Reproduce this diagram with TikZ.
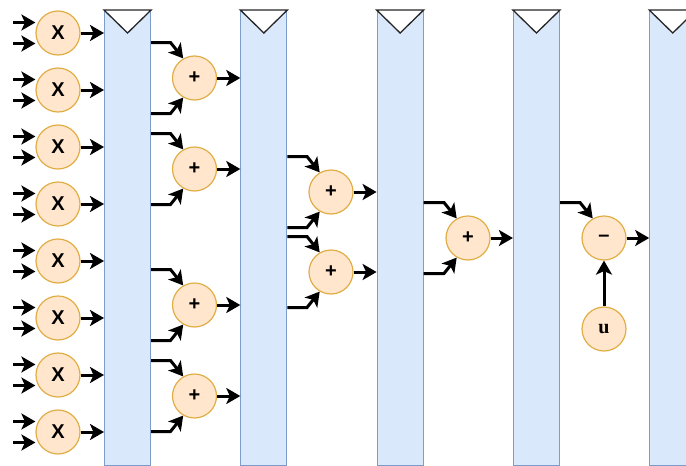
\documentclass[tikz,border=0pt]{standalone}
\usepackage{fontspec}
\setmainfont{Liberation Sans}
\newfontfamily\varfont{Liberation Serif}
\usetikzlibrary{arrows.meta,calc}

\definecolor{barfill}{HTML}{DAE8FC}
\definecolor{barline}{HTML}{7C9CCB}
\definecolor{opfill}{HTML}{FFE6CC}
\definecolor{opline}{HTML}{E0AE45}

% input from a bar into an operator: #1 bar, #2 operator, #3 vertical offset, #4 entry angle
\newcommand\feedin[4]{%
  \draw[flow] ([yshift=#3]#2.center -| #1.east) -- ([yshift=#3,xshift=-24pt]#2.center) -- (#2.#4);}

\begin{document}
\begin{tikzpicture}[x=1pt,y=-1pt,
  bar/.style={rectangle, draw=barline, fill=barfill, line width=1.1pt,
    minimum width=46pt, minimum height=455pt, inner sep=0pt, anchor=north west},
  tri/.style={draw=black!85, fill=white, line width=1.3pt, line join=miter},
  op/.style={circle, draw=opline, fill=opfill, line width=1.2pt,
    minimum size=44pt, inner sep=0pt, font=\fontsize{20}{20}\selectfont\bfseries},
  flow/.style={line width=3pt, -{Stealth[length=14pt,width=16pt,inset=3.5pt]}},
]
\useasboundingbox (0,0) rectangle (686,466);

% register bars with their clock triangles
\foreach \i/\x in {1/104,2/240.3,3/376.6,4/512.9,5/649.2} {
  \node[bar] (bar\i) at (\x,10) {};
  \draw[tri] (bar\i.north west) -- (bar\i.north east) -- ($(bar\i.north)+(0,23)$) -- cycle;
}

% multipliers
\foreach \k in {0,...,7} {
  \node[op] (m\k) at (58,{33+57*\k}) {X};
  \coordinate (ma\k) at (13,{33+57*\k-10.5});
  \coordinate (mb\k) at (13,{33+57*\k+10.5});
  \draw[flow] (ma\k) -- (ma\k -| m\k.west);
  \draw[flow] (mb\k) -- (mb\k -| m\k.west);
  \draw[flow] (m\k.east) -- (m\k.east -| bar1.west);
}

% first adder stage
\foreach \k/\y in {1/78,2/169,3/305,4/396} {
  \node[op] (p\k) at (194.5,\y) {+};
  \feedin{bar1}{p\k}{35.5pt}{120}
  \feedin{bar1}{p\k}{-35.5pt}{240}
  \draw[flow] (p\k.east) -- (p\k.east -| bar2.west);
}

% second adder stage
\foreach \k/\y in {1/192,2/272} {
  \node[op] (q\k) at (331,\y) {+};
  \feedin{bar2}{q\k}{35.5pt}{120}
  \feedin{bar2}{q\k}{-35.5pt}{240}
  \draw[flow] (q\k.east) -- (q\k.east -| bar3.west);
}

% final adder
\node[op] (r) at (468,238) {+};
\feedin{bar3}{r}{35.5pt}{120}
\feedin{bar3}{r}{-35.5pt}{240}
\draw[flow] (r.east) -- (r.east -| bar4.west);

% subtraction of u
\node[op] (s) at (604,238) {\textendash};
\node[op, font=\fontsize{20}{20}\selectfont\varfont\bfseries] (u) at (604,329) {u};
\feedin{bar4}{s}{35.5pt}{120}
\draw[flow] (u.north) -- (s.south);
\draw[flow] (s.east) -- (s.east -| bar5.west);
\end{tikzpicture}
\end{document}
